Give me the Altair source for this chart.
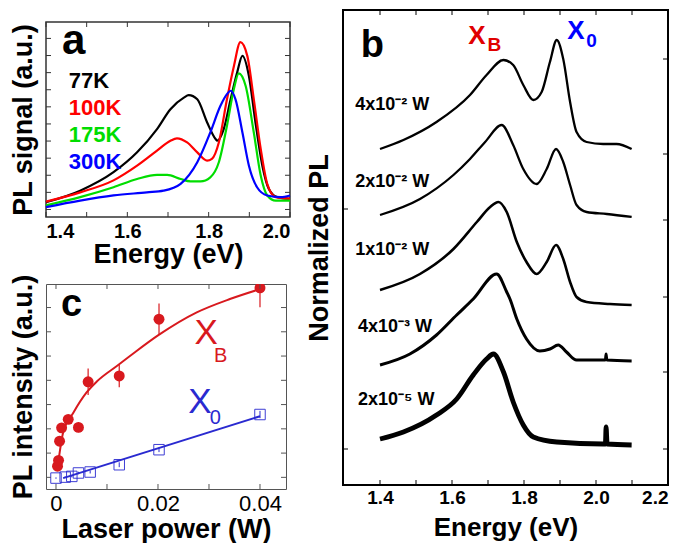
import altair as alt
import pandas as pd

FONT = "Liberation Sans"

# ---------------- Panel a data ----------------
a_series = ["77K", "100K", "175K", "300K"]
a_colors = ["#000000", "#ff0000", "#00dd00", "#0000ff"]
a77_E = [1.400, 1.484, 1.566, 1.624, 1.673, 1.706, 1.739, 1.751, 1.772, 1.796, 1.817, 1.821, 1.837, 1.854, 1.870, 1.883, 1.899, 1.915, 1.932, 1.948, 1.969, 2.000]
a77_v = [0.21, 0.55, 1.09, 1.67, 2.35, 2.93, 3.27, 3.34, 3.22, 2.55, 2.06, 2.01, 2.35, 3.22, 4.00, 4.49, 3.90, 2.55, 1.28, 0.60, 0.36, 0.31]
a100_E = [1.400, 1.484, 1.566, 1.624, 1.673, 1.706, 1.722, 1.747, 1.772, 1.796, 1.808, 1.825, 1.845, 1.862, 1.878, 1.895, 1.911, 1.928, 1.944, 1.965, 2.000]
a100_v = [0.23, 0.50, 0.85, 1.28, 1.72, 2.01, 2.08, 1.96, 1.67, 1.43, 1.48, 1.96, 3.22, 4.19, 4.89, 4.49, 3.22, 1.77, 0.75, 0.36, 0.31]
a175_E = [1.400, 1.484, 1.566, 1.624, 1.673, 1.698, 1.731, 1.755, 1.780, 1.804, 1.825, 1.845, 1.862, 1.874, 1.891, 1.911, 1.928, 1.944, 1.965, 2.000]
a175_v = [0.12, 0.36, 0.65, 0.89, 1.01, 1.01, 0.89, 0.82, 0.82, 0.94, 1.38, 2.45, 3.52, 3.98, 3.61, 2.25, 0.99, 0.41, 0.26, 0.26]
a300_E = [1.400, 1.484, 1.566, 1.648, 1.689, 1.731, 1.772, 1.804, 1.829, 1.845, 1.854, 1.866, 1.883, 1.899, 1.919, 1.944, 1.977, 2.000]
a300_v = [0.07, 0.26, 0.41, 0.50, 0.55, 0.75, 1.38, 2.25, 3.03, 3.37, 3.47, 3.22, 2.25, 1.28, 0.65, 0.41, 0.36, 0.41]
a_xticks = [1.4, 1.5, 1.6, 1.7, 1.8, 1.9, 2.0]
a_yticks = [0, 0.5, 1, 1.5, 2, 2.5, 3, 3.5, 4, 4.5, 5]
a_xlabels = [1.4, 1.6, 1.8, 2.0]

# ---------------- Panel b data ----------------
b_labels = ["4x10⁻² W", "2x10⁻² W", "1x10⁻² W", "4x10⁻³ W", "2x10⁻⁵ W"]
b1_E = [1.400, 1.465, 1.557, 1.650, 1.696, 1.743, 1.770, 1.798, 1.826, 1.849, 1.872, 1.891, 1.909, 1.928, 1.946, 1.974, 2.020, 2.057, 2.099]
b1_v = [3.36, 3.45, 3.63, 3.90, 4.10, 4.25, 4.20, 4.00, 3.85, 3.93, 4.23, 4.45, 4.26, 3.83, 3.53, 3.43, 3.41, 3.41, 3.36]
b2_E = [1.400, 1.511, 1.604, 1.650, 1.692, 1.738, 1.770, 1.798, 1.835, 1.863, 1.889, 1.909, 1.928, 1.946, 1.974, 2.030, 2.099]
b2_v = [2.70, 2.86, 3.10, 3.26, 3.43, 3.60, 3.40, 3.16, 3.01, 3.16, 3.36, 3.23, 3.00, 2.80, 2.73, 2.71, 2.68]
b3_E = [1.400, 1.511, 1.604, 1.669, 1.706, 1.729, 1.752, 1.780, 1.807, 1.835, 1.863, 1.889, 1.909, 1.928, 1.946, 1.974, 2.039, 2.099]
b3_v = [1.95, 2.11, 2.36, 2.63, 2.78, 2.83, 2.73, 2.43, 2.23, 2.11, 2.23, 2.40, 2.26, 2.03, 1.88, 1.83, 1.81, 1.80]
b4_E = [1.400, 1.483, 1.557, 1.613, 1.659, 1.724, 1.752, 1.761, 1.780, 1.807, 1.844, 1.872, 1.895, 1.918, 1.946, 2.020, 2.026, 2.028, 2.030, 2.099]
b4_v = [1.20, 1.31, 1.50, 1.70, 1.86, 2.11, 1.93, 1.86, 1.66, 1.46, 1.34, 1.36, 1.40, 1.33, 1.25, 1.25, 1.25, 1.31, 1.25, 1.24]
b5_E = [1.400, 1.465, 1.557, 1.613, 1.659, 1.696, 1.715, 1.743, 1.770, 1.798, 1.826, 1.891, 2.020, 2.026, 2.028, 2.031, 2.099]
b5_v = [0.46, 0.53, 0.70, 0.86, 1.10, 1.26, 1.31, 1.13, 0.83, 0.60, 0.48, 0.43, 0.41, 0.41, 0.58, 0.41, 0.40]
b_widths = [2.3, 2.3, 2.6, 3.0, 4.8]
b_label_E = [1.331, 1.331, 1.331, 1.339, 1.339]
b_label_v = [3.80, 3.03, 2.35, 1.58, 0.85]
b_xticks = [1.4, 1.5, 1.6, 1.7, 1.8, 1.9, 2.0, 2.1]
b_xlabels = [1.4, 1.6, 1.8, 2.0, 2.2]
b_left_yticks = [0.36, 2.76]
b_right_yticks = [0.36, 1.13, 1.88, 2.65, 3.31, 4.26]

# ---------------- Panel c data ----------------
xb_P = [0.0003, 0.0005, 0.0007, 0.0011, 0.0024, 0.0044, 0.0063, 0.0124, 0.0202, 0.0400]
xb_I = [0.46, 0.70, 1.49, 2.04, 2.39, 2.06, 3.94, 4.18, 6.52, 7.81]
xb_err = [0.10, 0.10, 0.10, 0.10, 0.15, 0.20, 0.55, 0.47, 0.65, 0.80]
x0_P = [0.0000, 0.0018, 0.0031, 0.0044, 0.0067, 0.0124, 0.0202, 0.0400]
x0_I = [-0.03, 0.01, 0.04, 0.18, 0.22, 0.52, 1.14, 2.59]
x0_err = [0.03, 0.03, 0.04, 0.05, 0.06, 0.10, 0.10, 0.15]
xb_fit_P = [0.0005, 0.0014, 0.0034, 0.0060, 0.0080, 0.0120, 0.0145, 0.0200, 0.0276, 0.0341, 0.0400]
xb_fit_I = [0.70, 1.85, 2.66, 3.50, 3.95, 4.60, 5.00, 5.85, 6.80, 7.35, 7.76]
x0_fit_P = [0.0014, 0.0400]
x0_fit_I = [-0.03, 2.52]
c_xticks = [0, 0.01, 0.02, 0.03, 0.04]
c_yticks = [0, 1, 2, 3, 4, 5, 6, 7]


def inward_ticks(values, scale, axis, side, W, H, length=5, color="black", width=1):
    df = pd.DataFrame({"t": values})
    m = alt.Chart(df).mark_rule(color=color, strokeWidth=width)
    if side == "bottom":
        return m.encode(x=alt.X("t:Q", scale=scale, axis=axis), y=alt.value(H), y2=alt.value(H - length))
    if side == "top":
        return m.encode(x=alt.X("t:Q", scale=scale, axis=axis), y=alt.value(0), y2=alt.value(length))
    if side == "left":
        return m.encode(y=alt.Y("t:Q", scale=scale, axis=axis), x=alt.value(0), x2=alt.value(length))
    return m.encode(y=alt.Y("t:Q", scale=scale, axis=axis), x=alt.value(W), x2=alt.value(W - length))


def text_layer(xs, ys, texts, colors, xscale, yscale, xaxis, yaxis, size, weight="bold",
               align="left", baseline="middle"):
    df = pd.DataFrame({"x": xs, "y": ys, "s": texts, "c": colors})
    return alt.Chart(df).mark_text(align=align, baseline=baseline, fontSize=size,
                                   fontWeight=weight, font=FONT).encode(
        x=alt.X("x:Q", scale=xscale, axis=xaxis),
        y=alt.Y("y:Q", scale=yscale, axis=yaxis),
        text="s:N",
        color=alt.Color("c:N", scale=None),
    )


# ================= Panel a =================
WA, HA = 244, 195
xa = alt.Scale(domain=[1.4, 2.0], nice=False, zero=False)
ya = alt.Scale(domain=[-0.22, 5.48], nice=False, zero=False)
ax_a_x = alt.Axis(
    title="Energy (eV)", values=a_xlabels, format=".1f", labelFlush=True, ticks=False, domain=False,
    grid=False, labelFontSize=20, labelFontWeight="bold", labelFont=FONT, labelColor="black",
    titleFontSize=27, titleFontWeight="bold", titleFont=FONT, titleColor="black",
    labelPadding=4, titlePadding=0)
ax_a_y = alt.Axis(
    title="PL signal (a.u.)", labels=False, ticks=False, domain=False, grid=False,
    titleFontSize=27, titleFontWeight="bold", titleFont=FONT, titleColor="black", titlePadding=9)
rows = []
for name, Es, vs in zip(a_series, [a77_E, a100_E, a175_E, a300_E], [a77_v, a100_v, a175_v, a300_v]):
    for e, v in zip(Es, vs):
        rows.append({"E": e, "v": v, "T": name})
df_a = pd.DataFrame(rows)

a_lines = alt.Chart(df_a).mark_line(strokeWidth=2.2, interpolate="monotone").encode(
    x=alt.X("E:Q", scale=xa, axis=ax_a_x),
    y=alt.Y("v:Q", scale=ya, axis=ax_a_y),
    color=alt.Color("T:N", scale=alt.Scale(domain=a_series, range=a_colors), legend=None),
)
a_leg = text_layer([1.456] * 4, [3.75, 2.96, 2.18, 1.39], a_series, a_colors, xa, ya, ax_a_x, ax_a_y, 22)
a_letter = text_layer([1.468], [4.535], ["a"], ["black"], xa, ya, ax_a_x, ax_a_y, 42,
                      align="center", baseline="alphabetic")
panel_a = alt.layer(
    a_lines, a_leg, a_letter,
    inward_ticks(a_xticks, xa, ax_a_x, "bottom", WA, HA, color="#333"),
    inward_ticks(a_xticks, xa, ax_a_x, "top", WA, HA, color="#333"),
    inward_ticks(a_yticks, ya, ax_a_y, "left", WA, HA, color="#333"),
    inward_ticks(a_yticks, ya, ax_a_y, "right", WA, HA, color="#333"),
).properties(width=WA, height=HA, view=alt.ViewBackground(stroke="#333", strokeWidth=1.5))

# ================= Panel c =================
WC, HC = 240, 205
xc = alt.Scale(domain=[-0.00196, 0.0451], nice=False, zero=False)
yc = alt.Scale(domain=[-0.48, 7.97], nice=False, zero=False)
df_xb = pd.DataFrame({"P": xb_P, "I": xb_I, "e": xb_err})
df_xb["lo"] = df_xb["I"] - df_xb["e"]
df_xb["hi"] = df_xb["I"] + df_xb["e"]
df_x0 = pd.DataFrame({"P": x0_P, "I": x0_I, "e": x0_err})
df_x0["lo"] = df_x0["I"] - df_x0["e"]
df_x0["hi"] = df_x0["I"] + df_x0["e"]
RED_C, BLUE_C = "#d8191e", "#2a2ad0"

ax_c_x = alt.Axis(title="Laser power (W)", values=[0, 0.02, 0.04], format="~g", ticks=False, domain=False,
                  grid=False, labelFontSize=22, labelFontWeight="normal", labelFont=FONT, labelColor="black",
                  titleFontSize=27, titleFontWeight="bold", titleFont=FONT, titleColor="black",
                  labelPadding=4, titlePadding=2)
ax_c_y = alt.Axis(title="PL intensity (a.u.)", labels=False, ticks=False, domain=False, grid=False,
                  titleFontSize=27, titleFontWeight="bold", titleFont=FONT, titleColor="black", titlePadding=9)


def cx(f):
    return alt.X(f, scale=xc, axis=ax_c_x)


def cy(f):
    return alt.Y(f, scale=yc, axis=ax_c_y)


c_xb_fit = alt.Chart(pd.DataFrame({"P": xb_fit_P, "I": xb_fit_I})).mark_line(
    color=RED_C, strokeWidth=2, interpolate="monotone").encode(x=cx("P:Q"), y=cy("I:Q"))
c_x0_fit = alt.Chart(pd.DataFrame({"P": x0_fit_P, "I": x0_fit_I})).mark_line(
    color=BLUE_C, strokeWidth=2).encode(x=cx("P:Q"), y=cy("I:Q"))
c_xb_err = alt.Chart(df_xb).mark_rule(color=RED_C, strokeWidth=1.2, clip=True).encode(
    x=cx("P:Q"), y=cy("lo:Q"), y2="hi:Q")
c_x0_err = alt.Chart(df_x0).mark_rule(color=BLUE_C, strokeWidth=1, clip=True).encode(
    x=cx("P:Q"), y=cy("lo:Q"), y2="hi:Q")
c_xb_pts = alt.Chart(df_xb).mark_circle(color=RED_C, size=120, opacity=1, clip=True).encode(
    x=cx("P:Q"), y=cy("I:Q"))
c_x0_pts = alt.Chart(df_x0).mark_square(color=BLUE_C, size=110, filled=False, strokeWidth=1, opacity=0.9).encode(
    x=cx("P:Q"), y=cy("I:Q"))
c_txt_X = text_layer([0.02945, 0.0282], [5.94, 3.11], ["X", "X"], [RED_C, BLUE_C], xc, yc, ax_c_x, ax_c_y, 35,
                     weight="normal", align="center")
c_txt_sub = text_layer([0.0323, 0.03124], [5.0, 2.43], ["B", "0"], [RED_C, BLUE_C], xc, yc, ax_c_x, ax_c_y, 20,
                       weight="normal", align="center")
c_letter = text_layer([0.00307], [6.66], ["c"], ["black"], xc, yc, ax_c_x, ax_c_y, 38,
                      align="center", baseline="alphabetic")
panel_c = alt.layer(
    c_xb_fit, c_x0_fit, c_xb_err, c_x0_err, c_xb_pts, c_x0_pts, c_txt_X, c_txt_sub, c_letter,
    inward_ticks(c_xticks, xc, ax_c_x, "bottom", WC, HC, color="#555"),
    inward_ticks(c_xticks, xc, ax_c_x, "top", WC, HC, color="#555"),
    inward_ticks(c_yticks, yc, ax_c_y, "left", WC, HC, color="#555"),
    inward_ticks(c_yticks, yc, ax_c_y, "right", WC, HC, color="#555"),
).properties(width=WC, height=HC,
             view=alt.ViewBackground(stroke="#555", strokeWidth=1, fill="white"))

# ================= Panel b =================
WB, HB = 325, 475
xbs = alt.Scale(domain=[1.2972, 2.2], nice=False, zero=False)
ybs = alt.Scale(domain=[0, 4.75], nice=False, zero=False)
ax_b_x = alt.Axis(
    title="Energy (eV)", values=b_xlabels, format=".1f", labelFlush=True, ticks=False, domain=False,
    grid=False, labelFontSize=19, labelFontWeight="bold", labelFont=FONT, labelColor="black",
    titleFontSize=26, titleFontWeight="bold", titleFont=FONT, titleColor="black",
    labelPadding=3, titlePadding=7)
ax_b_y = alt.Axis(
    title="Normalized PL", labels=False, ticks=False, domain=False, grid=False,
    titleFontSize=27, titleFontWeight="bold", titleFont=FONT, titleColor="black", titlePadding=10)
rows = []
for k, (Es, vs) in enumerate(zip([b1_E, b2_E, b3_E, b4_E, b5_E], [b1_v, b2_v, b3_v, b4_v, b5_v])):
    for e, v in zip(Es, vs):
        rows.append({"E": e, "v": v, "S": b_labels[k], "w": b_widths[k]})
df_b = pd.DataFrame(rows)
b_lines = alt.Chart(df_b).mark_line(color="black", interpolate="monotone").encode(
    x=alt.X("E:Q", scale=xbs, axis=ax_b_x),
    y=alt.Y("v:Q", scale=ybs, axis=ax_b_y),
    detail="S:N",
    strokeWidth=alt.StrokeWidth("w:Q", scale=None),
)
b_lab = text_layer(b_label_E, b_label_v, b_labels, ["black"] * 5, xbs, ybs, ax_b_x, ax_b_y, 18)
b_X = text_layer([1.6694, 1.944], [4.49, 4.54], ["X", "X"], ["#e00000", "#0000ff"], xbs, ybs, ax_b_x, ax_b_y,
                 26, align="center")
b_sub = text_layer([1.718, 1.9875], [4.405, 4.44], ["B", "0"], ["#e00000", "#0000ff"], xbs, ybs, ax_b_x, ax_b_y,
                   19, align="center")
b_letter = text_layer([1.379], [4.28], ["b"], ["black"], xbs, ybs, ax_b_x, ax_b_y, 38,
                      align="center", baseline="alphabetic")
panel_b = alt.layer(
    b_lines, b_lab, b_X, b_sub, b_letter,
    inward_ticks(b_xticks, xbs, ax_b_x, "bottom", WB, HB),
    inward_ticks(b_xticks, xbs, ax_b_x, "top", WB, HB),
    inward_ticks(b_left_yticks, ybs, ax_b_y, "left", WB, HB),
    inward_ticks(b_right_yticks, ybs, ax_b_y, "right", WB, HB),
).properties(width=WB, height=HB, view=alt.ViewBackground(stroke="black", strokeWidth=2))

# ================= Layout =================
spacer = alt.Chart(pd.DataFrame({"z": [0]}), view=alt.ViewBackground(stroke="transparent")).mark_point(
    opacity=0, size=1).encode(x=alt.X("z:Q", axis=None), y=alt.Y("z:Q", axis=None)).properties(width=1, height=3)

left = alt.vconcat(spacer, panel_a, panel_c, spacing=5)
chart = alt.hconcat(left, panel_b, spacing=8).properties(
    padding={"left": 0, "top": 0, "right": 0, "bottom": 0}, background="white").configure(
    font=FONT).resolve_scale(color="independent")

chart.save("out.html", embed_options={"renderer": "svg", "actions": False})
